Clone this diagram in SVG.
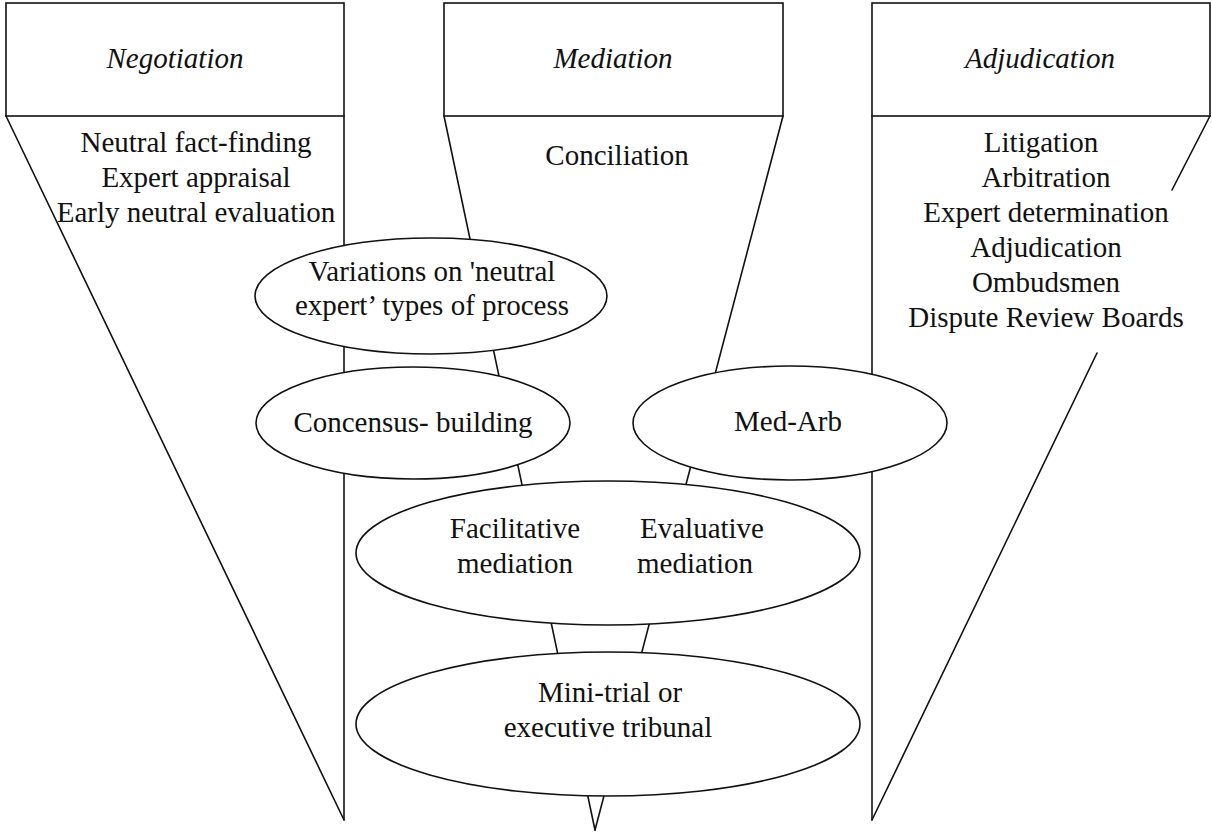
<svg xmlns="http://www.w3.org/2000/svg" width="1212" height="833" viewBox="0 0 1212 833">
<style>
.ln{stroke:#111;stroke-width:1.6;fill:none;stroke-linecap:round}
.box{fill:#fff;stroke:#111;stroke-width:1.6}
.ell{fill:#fff;stroke:#111;stroke-width:1.6}
.t{font-family:'Liberation Serif','DejaVu Serif',serif;font-size:29px;fill:#111;text-anchor:middle}
.h{font-style:italic}
</style>
<rect width="1212" height="833" fill="#fff"/>
<g id="connectors">
<line class="ln" x1="6" y1="116" x2="344" y2="820"/>
<line class="ln" x1="344" y1="116" x2="344" y2="820"/>
<line class="ln" x1="444" y1="116" x2="595" y2="830"/>
<line class="ln" x1="783" y1="116" x2="595" y2="830"/>
<line class="ln" x1="872" y1="116" x2="872" y2="820"/>
<line class="ln" x1="1210" y1="116" x2="1172" y2="190"/>
<line class="ln" x1="1097" y1="353" x2="872" y2="820"/>
</g>
<g id="negotiation">
<rect class="box" x="6" y="3" width="338" height="113"/>
<text class="t h" x="175" y="68">Negotiation</text>
<text class="t" x="196" y="152">Neutral fact-finding</text>
<text class="t" x="196" y="187">Expert appraisal</text>
<text class="t" x="196" y="222">Early neutral evaluation</text>
</g>
<g id="mediation">
<rect class="box" x="444" y="3" width="339" height="113"/>
<text class="t h" x="613" y="68">Mediation</text>
<text class="t" x="617" y="165">Conciliation</text>
</g>
<g id="adjudication">
<rect class="box" x="872" y="3" width="338" height="113"/>
<text class="t h" x="1040" y="68">Adjudication</text>
<text class="t" x="1041" y="152">Litigation</text>
<text class="t" x="1046" y="187">Arbitration</text>
<text class="t" x="1046" y="222">Expert determination</text>
<text class="t" x="1046" y="257">Adjudication</text>
<text class="t" x="1046" y="292">Ombudsmen</text>
<text class="t" x="1046" y="327">Dispute Review Boards</text>
</g>
<g id="variations">
<ellipse class="ell" cx="431" cy="296" rx="176" ry="58"/>
<text class="t" x="432" y="281">Variations on 'neutral</text>
<text class="t" x="432" y="315">expert’ types of process</text>
</g>
<g id="concensus">
<ellipse class="ell" cx="413" cy="423" rx="157" ry="56"/>
<text class="t" x="413" y="432">Concensus- building</text>
</g>
<g id="med-arb">
<ellipse class="ell" cx="790" cy="423" rx="157" ry="57"/>
<text class="t" x="788" y="431">Med-Arb</text>
</g>
<g id="mediation-styles">
<ellipse class="ell" cx="608" cy="553" rx="252" ry="72"/>
<text class="t" x="515" y="538">Facilitative</text>
<text class="t" x="515" y="573">mediation</text>
<text class="t" x="702" y="538">Evaluative</text>
<text class="t" x="695" y="573">mediation</text>
</g>
<g id="mini-trial">
<ellipse class="ell" cx="608" cy="724" rx="252" ry="72"/>
<text class="t" x="610" y="702">Mini-trial or</text>
<text class="t" x="608" y="737">executive tribunal</text>
</g>
</svg>
